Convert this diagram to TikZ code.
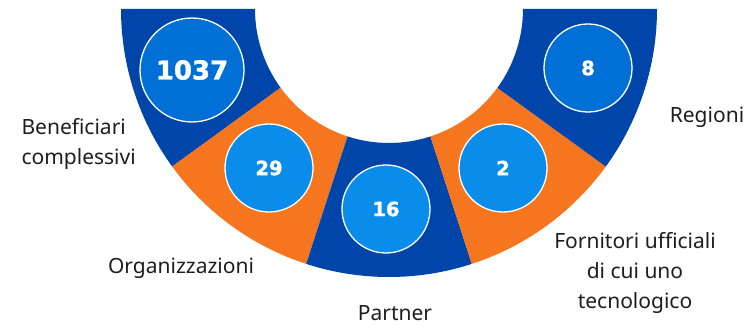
\documentclass[tikz,border=0pt]{standalone}
\usepackage{fontspec}
\setmainfont{Noto Sans}
\newfontfamily\numfont{DejaVu Sans}[BoldFeatures={FakeBold=1.6}]
\definecolor{darkblue}{HTML}{0046AA}
\definecolor{orangeseg}{HTML}{F6761F}
\definecolor{bluedeep}{HTML}{0070D6}
\definecolor{bluelight}{HTML}{0A8CEA}
\definecolor{textgray}{HTML}{1E1E1E}
\begin{document}
\begin{tikzpicture}
[x=1pt,y=1pt,
bubble/.style={draw=white,line width=1.3pt,circle,inner sep=0pt,text=white,minimum size=88pt,fill=bluelight,font=\numfont\bfseries\fontsize{19.5}{19.5}\selectfont},
desc/.style={font=\fontsize{21}{30}\selectfont,text=textgray,align=center},]

\useasboundingbox (0,0) rectangle (752,327);

%Radii of the half ring
\def\R{268}
\def\r{134}

\coordinate (O) at (389,318);

%Sectors
\foreach \a/\col in {180/darkblue,216/orangeseg,252/darkblue,288/orangeseg,324/darkblue}
  \fill[\col] ([shift={(\a:\R)}]O) arc[start angle=\a,delta angle=36,radius=\R]
    -- ([shift={(\a+36:\r)}]O) arc[start angle=\a+36,delta angle=-36,radius=\r] -- cycle;

%Numbers
\node (benef) at (192,257) [bubble,fill=bluedeep,minimum size=104pt,font=\numfont\bfseries\fontsize{26}{26}\selectfont] {1037};
\node (org) at (269,159) [bubble] {29};
\node (partner) at (386,118) [bubble] {16};
\node (forn) at (503,159) [bubble] {2};
\node (reg) at (588,259) [bubble,fill=bluedeep] {8};

%Labels (base is the last line)
\node (benefT) at (18,162) [desc,anchor=base west,align=left] {Beneficiari\\complessivi};
\node (orgT) at (181,54) [desc,anchor=base] {Organizzazioni};
\node (partnerT) at (395,7) [desc,anchor=base] {Partner};
\node (fornT) at (635,19) [desc,anchor=base] {Fornitori ufficiali\\di cui uno\\tecnologico};
\node (regT) at (707,204) [desc,anchor=base] {Regioni};
\end{tikzpicture}
\end{document}
